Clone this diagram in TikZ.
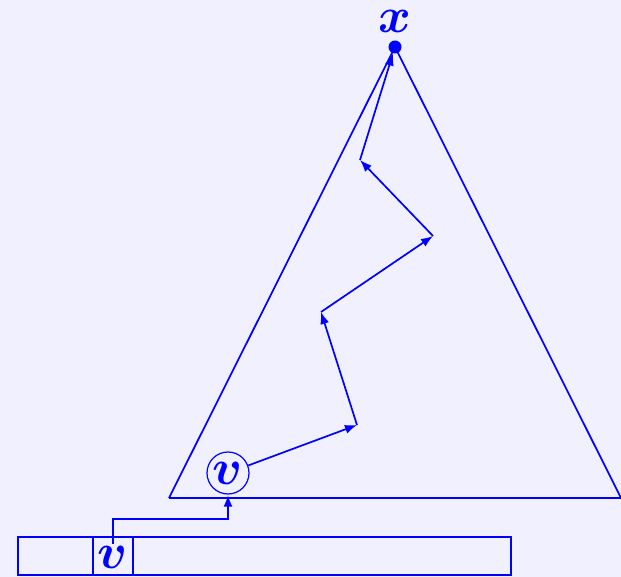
\documentclass[tikz,border=0pt]{standalone}
\usepackage{amsmath}
\usetikzlibrary{arrows.meta}
\definecolor{bgpaper}{RGB}{240,240,255}
\tikzset{
  lbl/.style={text=blue,font=\fontsize{24.88}{30}\selectfont},
  walk/.style={blue,line width=0.85pt,-{Latex[length=6pt,width=4.5pt]}},
  thickline/.style={blue,line width=1.2pt},
}
\begin{document}
\begin{tikzpicture}[x=0.5pt,y=-0.5pt]
\fill[bgpaper] (0,0) rectangle (621,577);
\useasboundingbox (0,0) rectangle (621,577);

% the tree
\coordinate (left) at (169,498);
\coordinate (right) at (621,498);
\node[circle,fill=blue,inner sep=0pt,minimum size=6.5pt] (x) at (395,47) {};
\node[lbl,inner sep=0pt] (xlabel) at (395,21) {$\boldsymbol{x}$};
\draw[blue,line width=0.85pt] (left) -- (x.center) -- (right);
\draw[thickline] (left) -- (right);

% walk from v up to the root
\node[lbl,circle,draw=blue,line width=0.6pt,inner sep=0pt,minimum size=21pt] (v) at (228,473) {$\boldsymbol{v}$};
\coordinate (p1) at (357,425);
\coordinate (p2) at (321,312);
\coordinate (p3) at (433,236);
\coordinate (p4) at (360,160);
\draw[walk] (v) -- (p1);
\draw[walk] (p1) -- (p2);
\draw[walk] (p2) -- (p3);
\draw[walk] (p3) -- (p4);
\draw[walk] (p4) -- (x);

% the array
\draw[thickline] (18,537) rectangle (511,575);
\draw[thickline] (93,537) -- (93,575);
\draw[thickline] (133,537) -- (133,575);
\node[lbl,inner sep=1pt] (cell) at (113,557) {$\boldsymbol{v}$};
\coordinate (bend) at (228,519);
\draw[thickline,-{Latex[length=6pt,width=4.5pt]}] (cell.north) |- (bend) -- (v.south);
\end{tikzpicture}
\end{document}
